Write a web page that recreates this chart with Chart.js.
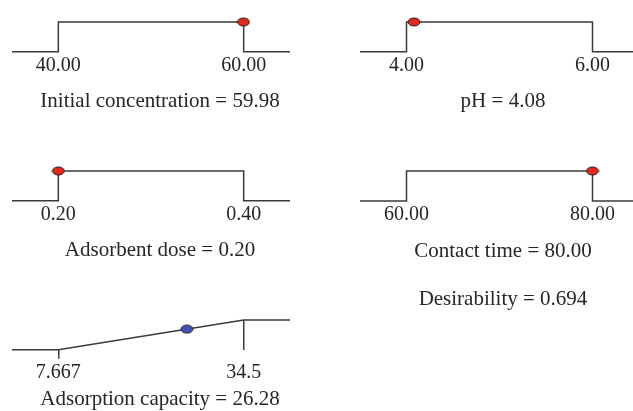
<!DOCTYPE html>
<html>
<head>
<meta charset="utf-8">
<title>Desirability ramps</title>
<script src="https://cdn.jsdelivr.net/npm/chart.js@4.4.1/dist/chart.umd.min.js"></script>
<style>
    html, body { margin: 0; padding: 0; background: #ffffff; overflow: hidden; }
    #board { position: relative; width: 633px; height: 411px; overflow: hidden; }
    #board canvas { position: absolute; }
</style>
</head>
<body>
<div id="board"></div>
<script>
// Factor settings (in-range constraints) and the optimum found
const factorNames = ['Initial concentration', 'pH', 'Adsorbent dose', 'Contact time'];
const factorLow = [40, 4, 0.2, 60];
const factorHigh = [60, 6, 0.4, 80];
const factorOptimum = [59.98, 4.08, 0.20, 80.00];
const factorTickLabels = [['40.00', '60.00'], ['4.00', '6.00'], ['0.20', '0.40'], ['60.00', '80.00']];

// Response (maximised) ramp
const responseName = 'Adsorption capacity';
const responseRange = [7.667, 34.5];
const responseTickLabels = ['7.667', '34.5'];
const responseOptimum = 26.28;
const desirability = 0.694;

const LINE = '#3a3a3a';
const TEXT = '#262626';
const SERIF = "'Liberation Serif', 'DejaVu Serif', serif";
const EXTEND = 0.25; // flat part drawn on each side, as share of the range

// small ellipse marker used as point style
function makeDot(fill) {
    const c = document.createElement('canvas');
    c.width = 14;
    c.height = 10;
    const g = c.getContext('2d');
    g.beginPath();
    g.ellipse(7, 5, 6, 4, 0, 0, Math.PI * 2);
    g.fillStyle = fill;
    g.fill();
    g.lineWidth = 1;
    g.strokeStyle = '#2a1a1a';
    g.stroke();
    return c;
}
const redDot = makeDot('#dc2a1c');
const blueDot = makeDot('#4150b4');

// panel boxes: canvas place, side gutters, x-axis height, tick length
const panels = [
    { left: 0,   top: 0,   width: 320, height: 114, padL: 12, padR: 30, axisH: 38, tick: 0 },
    { left: 320, top: 0,   width: 366, height: 114, padL: 40, padR: 47, axisH: 38, tick: 0 },
    { left: 0,   top: 149, width: 320, height: 114, padL: 12, padR: 30, axisH: 38, tick: 0 },
    { left: 320, top: 149, width: 366, height: 174, padL: 40, padR: 47, axisH: 26, tick: 0 },
    { left: 0,   top: 298, width: 320, height: 114, padL: 12, padR: 30, axisH: 38, tick: 9 }
];

function addCanvas(p) {
    const cv = document.createElement('canvas');
    cv.width = p.width;
    cv.height = p.height;
    cv.style.left = p.left + 'px';
    cv.style.top = p.top + 'px';
    cv.style.width = p.width + 'px';
    cv.style.height = p.height + 'px';
    document.getElementById('board').appendChild(cv);
    return cv.getContext('2d');
}

function buildOptions(p, low, high, labels, title, lineH, gridColor, tickColor) {
    const span = high - low;
    return {
        responsive: false,
        animation: false,
        layout: { padding: { top: 22, left: 0, right: 0, bottom: 0 } },
        plugins: {
            legend: { display: false },
            tooltip: { enabled: false },
            title: {
                display: true,
                position: 'bottom',
                text: title,
                color: TEXT,
                font: { family: SERIF, size: 21, weight: 'normal', lineHeight: lineH },
                padding: 0
            }
        },
        scales: {
            x: {
                type: 'linear',
                min: low - EXTEND * span,
                max: high + EXTEND * span,
                border: { display: false },
                grid: {
                    display: p.tick > 0,
                    drawTicks: p.tick > 0,
                    tickLength: p.tick,
                    lineWidth: 1.5,
                    color: gridColor,
                    tickColor: tickColor
                },
                afterBuildTicks: axis => { axis.ticks = [{ value: low }, { value: high }]; },
                ticks: {
                    color: TEXT,
                    padding: 2,
                    maxRotation: 0,
                    autoSkip: false,
                    font: { family: SERIF, size: 20 },
                    callback: (v, i) => labels[i]
                },
                afterFit: axis => { axis.height = p.axisH; }
            },
            y: {
                min: 0,
                max: 1,
                position: 'left',
                border: { display: false },
                grid: { display: false },
                ticks: { display: false },
                afterFit: axis => { axis.width = p.padL; }
            },
            yRight: {
                min: 0,
                max: 1,
                position: 'right',
                border: { display: false },
                grid: { display: false },
                ticks: { display: false },
                afterFit: axis => { axis.width = p.padR; }
            }
        }
    };
}

// factor panels: step shape, desirability 1 inside the range
factorNames.forEach((name, i) => {
    const p = panels[i];
    const low = factorLow[i];
    const high = factorHigh[i];
    const span = high - low;
    let title = name + ' = ' + factorOptimum[i].toFixed(2);
    let lineH = 1.15;
    if (i === 3) {
        title = [title, 'Desirability = ' + desirability.toFixed(3)];
        lineH = 48 / 21;
    }
    new Chart(addCanvas(p), {
        type: 'line',
        data: {
            datasets: [
                // marker first so it sits on top of the step line
                {
                    data: [{ x: factorOptimum[i], y: 1 }],
                    showLine: false,
                    pointStyle: redDot,
                    pointRadius: 6,
                    clip: false
                },
                {
                    data: [
                        { x: low - EXTEND * span, y: 0 }, { x: low, y: 0 }, { x: low, y: 1 },
                        { x: high, y: 1 }, { x: high, y: 0 }, { x: high + EXTEND * span, y: 0 }
                    ],
                    borderColor: LINE,
                    borderWidth: 1.5,
                    pointRadius: 0,
                    tension: 0,
                    clip: false
                }
            ]
        },
        options: buildOptions(p, low, high, factorTickLabels[i], title, lineH, 'transparent', 'transparent')
    });
});

// response panel: linear ramp from lower to upper limit
(function () {
    const p = panels[4];
    const low = responseRange[0];
    const high = responseRange[1];
    const span = high - low;
    const d = (responseOptimum - low) / span;
    new Chart(addCanvas(p), {
        type: 'line',
        data: {
            datasets: [
                {
                    data: [{ x: responseOptimum, y: d }],
                    showLine: false,
                    pointStyle: blueDot,
                    pointRadius: 6,
                    clip: false
                },
                {
                    data: [
                        { x: low - EXTEND * span, y: 0 }, { x: low, y: 0 },
                        { x: high, y: 1 }, { x: high + EXTEND * span, y: 1 }
                    ],
                    borderColor: LINE,
                    borderWidth: 1.5,
                    pointRadius: 0,
                    tension: 0,
                    clip: false
                }
            ]
        },
        options: buildOptions(
            p, low, high, responseTickLabels,
            responseName + ' = ' + responseOptimum.toFixed(2), 1.15,
            ctx => (ctx.index === 1 ? LINE : 'transparent'),
            ctx => (ctx.index === 0 ? LINE : 'transparent')
        )
    });
})();
</script>
</body>
</html>
